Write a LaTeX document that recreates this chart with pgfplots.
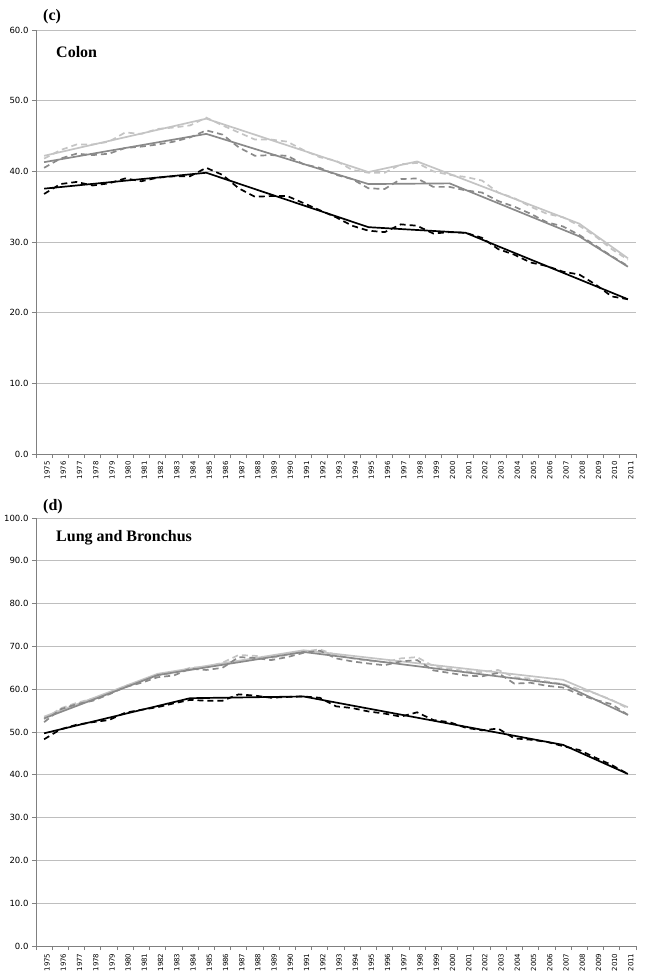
\documentclass[border=0pt]{standalone}
\usepackage{pgfplots}
\pgfplotsset{compat=1.18}
\usepackage{pgfplotstable}
\usepackage{fontspec}
\setmainfont{DejaVu Sans}
\newfontfamily\tnr{Liberation Serif}
\definecolor{gmid}{RGB}{138,138,138}
\definecolor{glight}{RGB}{196,196,196}
\definecolor{gridc}{RGB}{190,190,190}
\definecolor{axisc}{RGB}{128,128,128}

% observed (dashed) series, i = year - 1975
\pgfplotstableread{
i ld md bd
0 41.8 40.5 36.8
1 43.0 41.8 38.2
2 43.8 42.5 38.5
3 43.8 42.3 38.0
4 44.2 42.5 38.3
5 45.5 43.3 39.0
6 45.3 43.5 38.6
7 46.0 43.8 39.1
8 46.2 44.2 39.3
9 46.5 44.8 39.3
10 47.6 45.8 40.5
11 46.5 45.2 39.5
12 45.5 43.4 37.6
13 44.5 42.2 36.4
14 44.5 42.3 36.5
15 44.2 42.2 36.5
16 43.0 41.0 35.5
17 42.0 40.5 34.5
18 41.5 39.5 33.5
19 40.2 38.9 32.3
20 39.8 37.6 31.6
21 39.8 37.5 31.4
22 41.0 38.9 32.5
23 41.2 39.0 32.3
24 40.0 37.8 31.2
25 39.5 37.8 31.4
26 39.2 37.3 31.3
27 38.7 37.0 30.6
28 37.0 35.8 29.0
29 36.2 35.0 28.2
30 35.0 34.0 27.1
31 34.0 32.8 26.6
32 33.5 32.2 25.8
33 32.3 31.0 25.4
34 30.8 29.5 24.0
35 29.0 28.0 22.3
36 27.5 26.6 21.9
}\colondata

\pgfplotstableread{
i ld md bd
0 53.0 52.3 48.3
1 55.5 55.3 50.6
2 56.8 56.5 51.7
3 57.8 57.3 52.3
4 58.8 58.8 52.8
5 60.8 60.5 54.5
6 61.8 61.5 55.2
7 63.2 62.8 55.8
8 63.8 63.2 56.7
9 65.0 64.8 57.5
10 65.2 64.5 57.3
11 66.2 65.0 57.3
12 68.0 67.5 58.8
13 67.8 67.3 58.5
14 67.3 66.8 58.0
15 68.0 67.5 58.2
16 68.8 68.5 58.3
17 69.3 69.0 58.0
18 68.0 67.2 56.0
19 67.2 66.5 55.6
20 66.6 66.0 54.8
21 66.3 65.6 54.3
22 67.2 66.5 53.6
23 67.5 66.8 54.6
24 65.4 64.4 52.8
25 64.8 63.8 52.3
26 64.2 63.2 51.0
27 64.0 63.0 50.4
28 64.5 63.8 50.8
29 62.8 61.3 48.5
30 62.5 61.5 48.2
31 61.8 60.8 47.7
32 61.2 60.4 46.7
33 60.0 58.8 45.8
34 59.0 57.5 44.0
35 57.5 56.5 42.3
36 55.5 54.0 40.2
}\lungdata

\pgfplotsset{
  mybase/.style={
    scale only axis,
    width=600pt,
    xmin=-0.5, xmax=36.5,
    ymin=0,
    axis x line=bottom, axis y line=left,
    axis line style={-, draw=axisc, line width=0.9pt},
    xtick={0,...,36},
    xticklabels={1975,1976,1977,1978,1979,1980,1981,1982,1983,1984,1985,1986,1987,1988,1989,1990,1991,1992,1993,1994,1995,1996,1997,1998,1999,2000,2001,2002,2003,2004,2005,2006,2007,2008,2009,2010,2011},
    minor xtick={-0.5,0.5,...,36.5},
    major x tick style={draw=none},
    minor x tick style={draw=axisc, line width=0.8pt},
    major y tick style={draw=axisc, line width=0.8pt},
    tick align=outside,
    major tick length=4pt,
    minor tick length=4pt,
    ymajorgrids,
    grid style={draw=gridc, line width=0.8pt},
    x tick label style={rotate=90, anchor=east, font=\fontsize{7}{8}\selectfont, yshift=-3pt},
    y tick label style={font=\fontsize{8.5}{9}\selectfont},
    /pgf/number format/assume math mode=true,
    yticklabel style={/pgf/number format/.cd, fixed, fixed zerofill, precision=1},
    clip=false,
  },
  fitl/.style={glight, line width=1.7pt},
  fitm/.style={gmid, line width=1.7pt},
  fitb/.style={black, line width=1.7pt},
  obsl/.style={glight, line width=1.7pt, dash pattern=on 6pt off 4pt},
  obsm/.style={gmid, line width=1.7pt, dash pattern=on 6pt off 4pt},
  obsb/.style={black, line width=1.7pt, dash pattern=on 6pt off 4pt},
}

\begin{document}
\begin{tikzpicture}
\path[use as bounding box] (0,0) rectangle (645pt,-980pt);

\begin{axis}[mybase, at={(36pt,-454pt)}, anchor=south west,
  height=424pt, ymax=60, ytick={0,10,...,60}]
  \addplot[obsl] table[x=i, y=ld] {\colondata};
  \addplot[fitl] coordinates {(0,42.2) (10,47.45) (20,39.9) (23,41.4) (33,32.6) (36,27.7)};
  \addplot[obsm] table[x=i, y=md] {\colondata};
  \addplot[fitm] coordinates {(0,41.3) (10,45.3) (20,38.2) (25,38.3) (33,30.8) (36,26.5)};
  \addplot[obsb] table[x=i, y=bd] {\colondata};
  \addplot[fitb] coordinates {(0,37.55) (10,39.8) (20,32.1) (26,31.3) (28,29.4) (36,21.9)};
\end{axis}

\begin{axis}[mybase, at={(36pt,-946pt)}, anchor=south west,
  height=428pt, ymax=100, ytick={0,10,...,100}]
  \addplot[obsl] table[x=i, y=ld] {\lungdata};
  \addplot[fitl] coordinates {(0,53.6) (7,63.6) (16,69.1) (32,62.2) (36,55.8)};
  \addplot[obsm] table[x=i, y=md] {\lungdata};
  \addplot[fitm] coordinates {(0,53.2) (7,63.3) (16,68.7) (32,61.1) (36,54.0)};
  \addplot[obsb] table[x=i, y=bd] {\lungdata};
  \addplot[fitb] coordinates {(0,49.7) (9,57.9) (16,58.3) (32,47.0) (36,40.2)};
\end{axis}

\node[anchor=base west, inner sep=0pt, font=\tnr\bfseries\fontsize{16}{18}\selectfont] at (43pt,-20pt) {(c)};
\node[anchor=base west, inner sep=0pt, font=\tnr\bfseries\fontsize{16}{18}\selectfont] at (56pt,-57pt) {Colon};
\node[anchor=base west, inner sep=0pt, font=\tnr\bfseries\fontsize{16}{18}\selectfont] at (43pt,-510pt) {(d)};
\node[anchor=base west, inner sep=0pt, font=\tnr\bfseries\fontsize{16}{18}\selectfont] at (56pt,-541pt) {Lung and Bronchus};
\end{tikzpicture}
\end{document}
